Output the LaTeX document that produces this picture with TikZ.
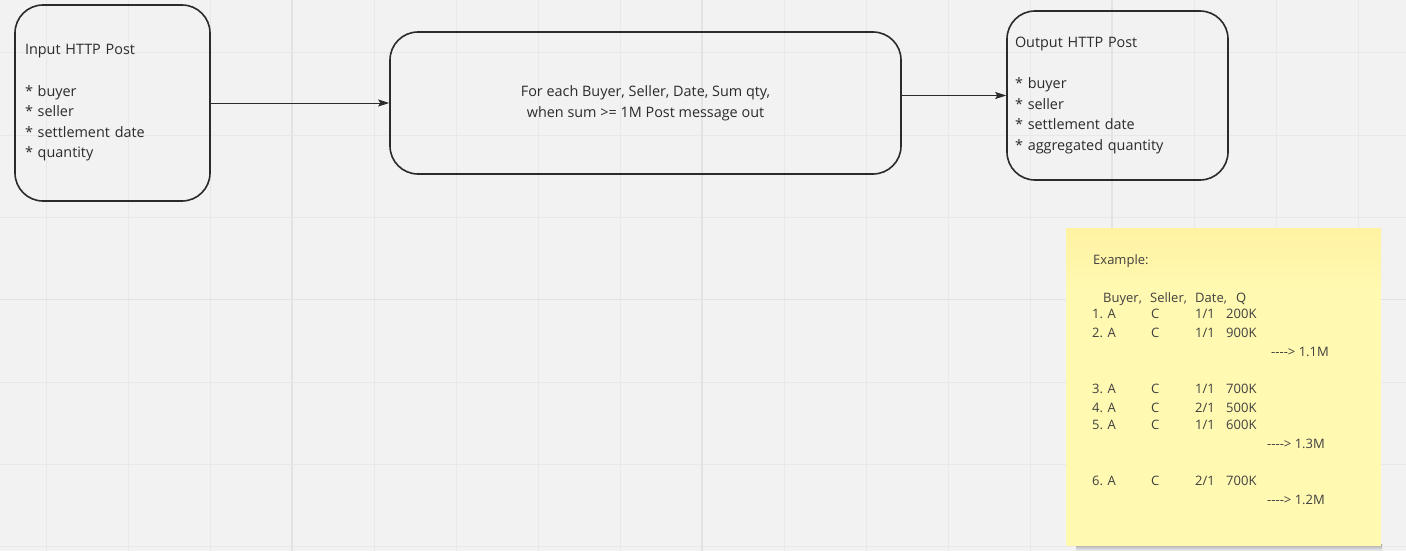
\documentclass[tikz,border=0pt]{standalone}
\usepackage{fontspec}
\setmainfont{Open Sans}
\usepackage{tikz}
\usepackage{xcolor}
\usetikzlibrary{arrows.meta}

\definecolor{board}{HTML}{F2F2F2}
\definecolor{gridline}{HTML}{E8E8E8}
\definecolor{gridmajor}{HTML}{E3E3E3}
\definecolor{sticky}{HTML}{FFF9B1}
\definecolor{stickytop}{HTML}{FFF2A2}
\definecolor{ink}{HTML}{2B2B2B}

\newcommand{\sumarrow}{-\kern0pt-\kern0pt-\kern0pt-\kern0pt>}

\begin{document}
\begin{tikzpicture}[x=1pt, y=-1pt,
  box/.style={draw=ink, line width=1.6pt, rounded corners=28pt, inner xsep=10pt, align=left, text=ink, font=\fontsize{14.4}{20.6}\selectfont},
  link/.style={draw=ink, line width=0.9pt, -{Stealth[length=11pt, width=7pt, inset=2pt]}},
  note/.style={anchor=base west, inner sep=0pt, text=ink!90, font=\fontsize{13}{15}\selectfont}]
  % Board
  \fill[board] (0,0) rectangle (1406,551);
  \useasboundingbox (0,0) rectangle (1406,551);
  \foreach \gx in {46,128,...,1358} \draw[gridline, line width=1pt] (\gx,0) -- (\gx,551);
  \foreach \gy in {53,135.3,...,550} \draw[gridline, line width=1pt] (0,\gy) -- (1406,\gy);
  \foreach \gx in {292,702,1112} \draw[gridmajor, line width=1.2pt] (\gx,0) -- (\gx,551);
  \draw[gridmajor, line width=1.2pt] (0,299.6) -- (1406,299.6);

  % Nodes
  \node[box, minimum width=195pt, minimum height=196pt, text width=175pt] (input) at (112.5,103)
    {Input HTTP Post\\[20.6pt] {*} buyer\\ {*} seller\\ {*} settlement date\\ {*} quantity};
  \node[box, align=center, minimum width=511pt, minimum height=142pt] (proc) at (645.5,103)
    {For each Buyer, Seller, Date, Sum qty,\\ when sum >= 1M Post message out};
  \node[box, inner xsep=8pt, minimum width=221pt, minimum height=169pt, text width=205pt] (out) at (1117.5,95.5)
    {Output HTTP Post\\[20.6pt] {*} buyer\\ {*} seller\\ {*} settlement date\\ {*} aggregated quantity};

  % Arrows
  \draw[link] (input.east) -- (proc.west);
  \draw[link] (out.west -| proc.east) -- (out.west);

  % Sticky note
  \shade[top color=black!35, bottom color=board] (1076,544) rectangle (1382,551);
  \fill[sticky] (1066,228) rectangle (1381,546);
  \shade[top color=stickytop, bottom color=sticky] (1066,228) rectangle (1381,290);
  \node[note] (example) at (1093,264) {Example:};
  \node[note] (hbuyer) at (1103,302) {Buyer,};
  \node[note] (hseller) at (1150,302) {Seller,};
  \node[note] (hdate) at (1195,302) {Date,};
  \node[note] (hqty) at (1236,302) {Q};
  \foreach \n/\dd/\q/\y in {1/1/200K/318, 2/1/900K/337, 3/1/700K/393, 4/2/500K/412, 5/1/600K/429, 6/2/700K/485} {
    \node[note] (num\n) at (1092,\y) {\n. A};
    \node[note] (sel\n) at (1151,\y) {C};
    \node[note] (date\n) at (1195,\y) {\dd/1};
    \node[note] (qty\n) at (1226,\y) {\q};
  }
  \node[note] (sum1) at (1271,356) {\sumarrow{} 1.1M};
  \node[note] (sum2) at (1267,448) {\sumarrow{} 1.3M};
  \node[note] (sum3) at (1267,504) {\sumarrow{} 1.2M};
\end{tikzpicture}
\end{document}
